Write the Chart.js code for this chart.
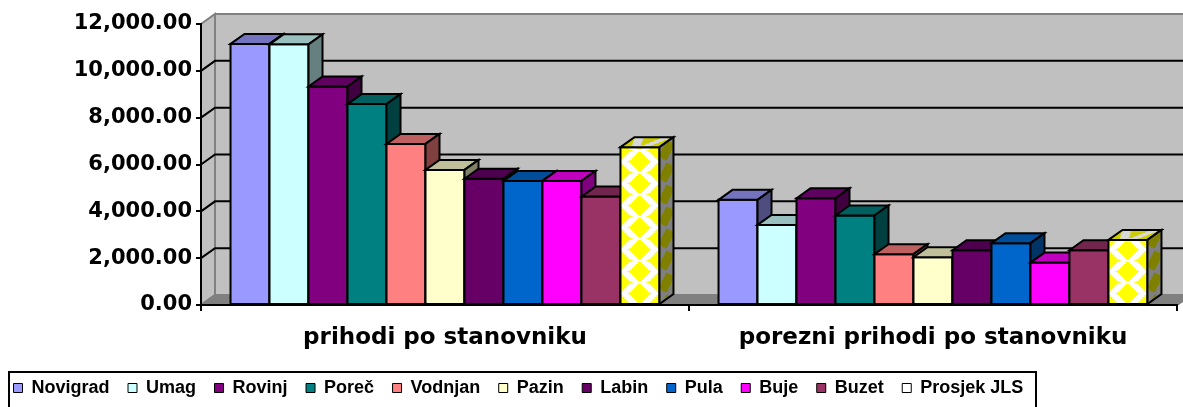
<!DOCTYPE html>
<html>
<head>
<meta charset="utf-8">
<script src="https://cdn.jsdelivr.net/npm/chart.js@4.4.1/dist/chart.umd.min.js"></script>
<style>
    html, body { margin: 0; padding: 0; background: #ffffff; }
    #okvir { width: 1183px; height: 407px; }
</style>
</head>
<body>
<div id="okvir"><canvas id="grafikon" width="1183" height="407"></canvas></div>
<script>
// podaci po stanovniku (kn)
const kategorije = ['prihodi po stanovniku', 'porezni prihodi po stanovniku'];
const gradovi = ['Novigrad', 'Umag', 'Rovinj', 'Poreč', 'Vodnjan', 'Pazin', 'Labin', 'Pula', 'Buje', 'Buzet', 'Prosjek JLS'];
const prihodi = [11150, 11130, 9330, 8580, 6880, 5770, 5390, 5300, 5300, 4630, 6740];
const porezniPrihodi = [4490, 3420, 4560, 3820, 2170, 2040, 2340, 2640, 1810, 2340, 2780];
const osY = { min: 0, max: 12000, korak: 2000 };

const boje = ['#9999FF', '#CCFFFF', '#800080', '#008080', '#FF8080', '#FFFFCC', '#660066', '#0066CC', '#FF00FF', '#993366', null];

// pomak stražnje ravnine (3D dubina)
const DX = 14;
const DY = -10;

const zatamni = (hex, f) => {
    const n = parseInt(hex.slice(1), 16);
    const r = Math.round(((n >> 16) & 255) * f);
    const g = Math.round(((n >> 8) & 255) * f);
    const b = Math.round((n & 255) * f);
    return `rgb(${r},${g},${b})`;
};

// uzorak za prosjek: žuti rombovi na svijetloj podlozi
const napraviUzorak = (pozadina, boja) => {
    const c = document.createElement('canvas');
    c.width = 38;
    c.height = 22;
    const g = c.getContext('2d');
    g.fillStyle = pozadina;
    g.fillRect(0, 0, 38, 22);
    g.fillStyle = boja;
    [[0, 0], [38, 0], [0, 22], [38, 22], [19, 11]].forEach(([cx, cy]) => {
        for (let d = -9; d <= 9; d++) {
            const hw = 2 * Math.round(5.5 * (1 - Math.abs(d) / 10.5));
            if (hw > 0) g.fillRect(cx - hw, cy + d, hw * 2, 1);
        }
    });
    return document.createElement('canvas').getContext('2d').createPattern(c, 'repeat');
};

const uzorakPrednji = napraviUzorak('#FFFFFF', '#FFFF00');
const uzorakGornji = napraviUzorak('#D8D8D8', '#CCCC00');
const uzorakBocni = napraviUzorak('#808080', '#808000');

const lica = boje.map(b => b
    ? { prednje: b, gornje: zatamni(b, 0.75), bocno: zatamni(b, 0.5) }
    : { prednje: uzorakPrednji, gornje: uzorakGornji, bocno: uzorakBocni, uzorak: true });

const skupovi = gradovi.map((grad, i) => ({
    label: grad,
    data: [prihodi[i], porezniPrihodi[i]],
    backgroundColor: lica[i].uzorak ? '#FFFFFF' : boje[i],
    borderColor: '#000000',
    borderWidth: 2
}));

const formatBroja = v => Number(v).toLocaleString('en-US', { minimumFractionDigits: 2, maximumFractionDigits: 2 });

const poligon = (ctx, tocke, ispuna) => {
    ctx.beginPath();
    ctx.moveTo(tocke[0][0], tocke[0][1]);
    for (let k = 1; k < tocke.length; k++) ctx.lineTo(tocke[k][0], tocke[k][1]);
    ctx.closePath();
    ctx.fillStyle = ispuna;
    ctx.fill();
    ctx.stroke();
};

// zidovi, pod i linije mreže na stražnjem zidu
const prostor3d = {
    id: 'prostor3d',
    beforeDraw(chart) {
        const { ctx, chartArea: a } = chart;
        const y = chart.scales.y;
        ctx.save();
        ctx.lineWidth = 2;
        ctx.strokeStyle = '#808080';
        // stražnji zid
        ctx.fillStyle = '#C0C0C0';
        ctx.fillRect(a.left + DX, a.top + DY, a.right - a.left, a.bottom - a.top);
        ctx.beginPath();
        ctx.moveTo(a.left + DX, a.top + DY);
        ctx.lineTo(a.right + DX + 20, a.top + DY);
        ctx.stroke();
        // lijevi zid
        poligon(ctx, [[a.left, a.top], [a.left + DX, a.top + DY], [a.left + DX, a.bottom + DY], [a.left, a.bottom]], '#C0C0C0');
        // pod
        poligon(ctx, [[a.left, a.bottom], [a.right, a.bottom], [a.right + DX, a.bottom + DY], [a.left + DX, a.bottom + DY]], '#808080');
        // mreža
        ctx.strokeStyle = '#000000';
        y.ticks.forEach(t => {
            if (t.value <= osY.min || t.value >= osY.max) return;
            const py = y.getPixelForValue(t.value);
            ctx.beginPath();
            ctx.moveTo(a.left, py);
            ctx.lineTo(a.left + DX, py + DY);
            ctx.lineTo(a.right + DX + 20, py + DY);
            ctx.stroke();
        });
        ctx.restore();
    },
    afterDatasetsDraw(chart) {
        const { ctx } = chart;
        const metas = chart.getSortedVisibleDatasetMetas();
        ctx.save();
        ctx.lineWidth = 2;
        ctx.strokeStyle = '#000000';
        ctx.lineJoin = 'miter';
        for (let j = 0; j < kategorije.length; j++) {
            metas.forEach(meta => {
                const el = meta.data[j];
                const { x, y, base, width } = el.getProps(['x', 'y', 'base', 'width'], true);
                const L = x - width / 2;
                const R = x + width / 2;
                const f = lica[meta.index];
                if (f.uzorak) {
                    f.prednje.setTransform(new DOMMatrix([1, 0, 0, 1, L, base]));
                    f.gornje.setTransform(new DOMMatrix([1, 0, DX / 11, DY / 11, L, y]));
                    f.bocno.setTransform(new DOMMatrix([DX / 19, DY / 19, 0, 1, R + DX / 2, base]));
                }
                poligon(ctx, [[L, y], [R, y], [R, base], [L, base]], f.prednje);
                poligon(ctx, [[L, y], [L + DX, y + DY], [R + DX, y + DY], [R, y]], f.gornje);
                poligon(ctx, [[R, y], [R + DX, y + DY], [R + DX, base + DY], [R, base]], f.bocno);
            });
        }
        ctx.restore();
    }
};

// okvir oko legende
const okvirLegende = {
    id: 'okvirLegende',
    afterDraw(chart) {
        const lg = chart.legend;
        const hb = lg.legendHitBoxes;
        if (!hb || !hb.length) return;
        const zadnji = hb[hb.length - 1];
        const lijevo = hb[0].left - 5;
        const desno = zadnji.left + zadnji.width + 12;
        const gore = Math.round(lg.top + 11.5);
        const { ctx } = chart;
        ctx.save();
        ctx.lineWidth = 2;
        ctx.strokeStyle = '#000000';
        ctx.strokeRect(Math.round(lijevo), gore, Math.round(desno - lijevo), 60);
        ctx.restore();
    }
};

const fontOsi = { family: "'DejaVu Sans'", weight: 'bold', size: 21 };

new Chart(document.getElementById('grafikon'), {
    type: 'bar',
    data: {
        labels: kategorije,
        datasets: skupovi
    },
    options: {
        responsive: false,
        animation: false,
        devicePixelRatio: 1,
        layout: {
            padding: { left: -5, right: 6, top: 24, bottom: 0 }
        },
        datasets: {
            bar: {
                categoryPercentage: 0.879,
                barPercentage: 1
            }
        },
        scales: {
            x: {
                offset: true,
                grid: { offset: true, drawOnChartArea: false, drawTicks: true, tickLength: 6, color: '#000000', lineWidth: 2 },
                border: { display: true, color: '#000000', width: 2 },
                ticks: {
                    color: '#000000',
                    font: { family: "'DejaVu Sans'", weight: 'bold', size: 23 },
                    padding: 13,
                    maxRotation: 0
                },
                afterFit: s => { s.height = 55.5; }
            },
            y: {
                min: osY.min,
                max: osY.max,
                grid: { drawOnChartArea: false, drawTicks: true, tickLength: 5, color: '#000000', lineWidth: 2 },
                border: { display: true, color: '#000000', width: 2 },
                ticks: {
                    stepSize: osY.korak,
                    color: '#000000',
                    font: fontOsi,
                    padding: 4,
                    callback: v => formatBroja(v)
                },
                afterFit: s => { s.width = 206; }
            }
        },
        plugins: {
            tooltip: { enabled: false },
            legend: {
                position: 'bottom',
                align: 'start',
                labels: {
                    boxWidth: 9,
                    boxHeight: 9,
                    padding: 18.5,
                    color: '#000000',
                    font: { family: "'Liberation Sans', Arial", weight: 'bold', size: 18 },
                    generateLabels: chart => Chart.defaults.plugins.legend.labels.generateLabels(chart).map(item => {
                        item.strokeStyle = '#000000';
                        item.lineWidth = 1;
                        return item;
                    })
                }
            }
        }
    },
    plugins: [prostor3d, okvirLegende]
});
</script>
</body>
</html>
